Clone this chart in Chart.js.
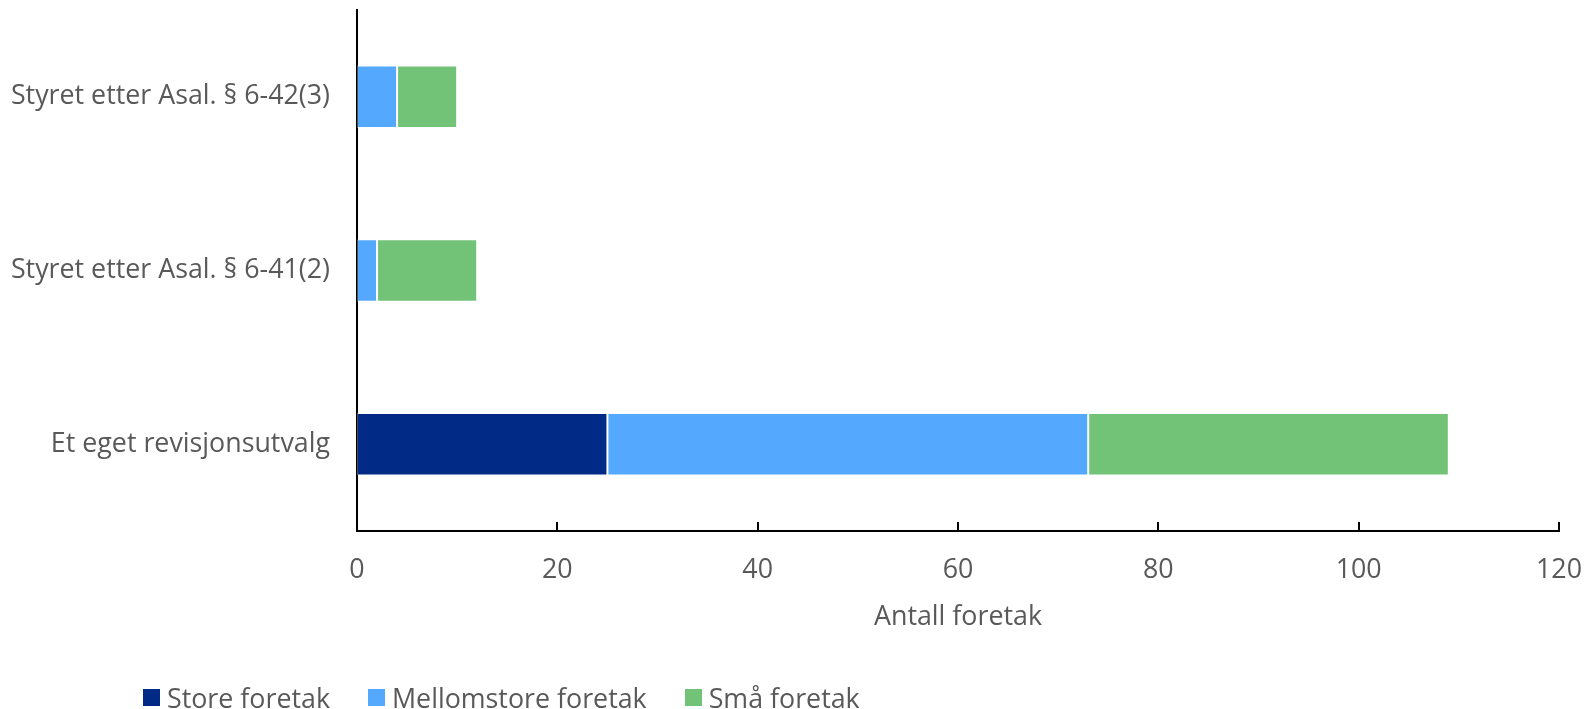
<!DOCTYPE html>
<html>
<head>
<meta charset="utf-8">
<script src="https://cdn.jsdelivr.net/npm/chart.js@4/dist/chart.umd.min.js"></script>
<style>
  html, body { margin: 0; padding: 0; background: #fff; }
  #wrap { position: relative; width: 1587px; height: 709px; }
  #chart { position: absolute; left: 0; top: 0; }
  #legend {
    position: absolute; left: 143px; top: 680px; height: 34px;
    display: flex; align-items: center;
    font-family: "Open Sans", sans-serif; font-size: 26.8px; color: #595959;
    white-space: nowrap;
  }
  .item { display: flex; align-items: center; margin-right: 38px; }
  .box { width: 17px; height: 17px; margin-right: 7px; }
</style>
</head>
<body>
<div id="wrap">
  <canvas id="chart" width="1587" height="709"></canvas>
  <div id="legend"></div>
</div>
<script>
// Categories (top to bottom) and number of companies per size group
const categories = [
  "Styret etter Asal. § 6-42(3)",
  "Styret etter Asal. § 6-41(2)",
  "Et eget revisjonsutvalg"
];
const seriesNames = ["Store foretak", "Mellomstore foretak", "Små foretak"];
const storeForetak = [0, 0, 25];
const mellomstoreForetak = [4, 2, 48];
const smaForetak = [6, 10, 36];
const xTicks = [0, 20, 40, 60, 80, 100, 120];
const colors = ["#002a85", "#54a9ff", "#72c277"];
const axisTitle = "Antall foretak";

const seriesValues = [storeForetak, mellomstoreForetak, smaForetak];
const TEXT = "#595959";
const FONT = "'Open Sans', sans-serif";
const FONT_SIZE = 26.8;

// Small tick marks pointing up from the value axis
const innerTicks = {
  id: "innerTicks",
  afterDraw(chart) {
    const x = chart.scales.x;
    const ctx = chart.ctx;
    ctx.save();
    ctx.strokeStyle = "#000";
    ctx.lineWidth = 2;
    xTicks.forEach(v => {
      const px = Math.round(x.getPixelForValue(v));
      ctx.beginPath();
      ctx.moveTo(px, x.top);
      ctx.lineTo(px, x.top - 9);
      ctx.stroke();
    });
    ctx.restore();
  }
};

// Keep the plot area fixed by dropping the scales' automatic label overhang
function noScalePadding(scale) {
  scale.paddingTop = 0;
  scale.paddingBottom = 0;
  scale.paddingLeft = 0;
  scale.paddingRight = 0;
}

new Chart(document.getElementById("chart"), {
  type: "bar",
  data: {
    labels: categories,
    datasets: seriesNames.map((name, i) => ({
      label: name,
      data: seriesValues[i],
      backgroundColor: colors[i],
      borderColor: "rgba(255,255,255,0.3)",
      borderWidth: 1,
      borderSkipped: false,
      categoryPercentage: 1,
      barPercentage: 0.36
    }))
  },
  options: {
    indexAxis: "y",
    responsive: false,
    animation: false,
    layout: { padding: { top: 10, right: 28, left: 0, bottom: 0 } },
    plugins: {
      legend: { display: false },
      tooltip: { enabled: false }
    },
    scales: {
      x: {
        stacked: true,
        min: 0,
        max: 120,
        afterBuildTicks(scale) { scale.ticks = xTicks.map(v => ({ value: v })); },
        afterFit(scale) { scale.height = 178; noScalePadding(scale); },
        grid: { display: false, drawTicks: false },
        border: { display: true, color: "#000", width: 2 },
        ticks: {
          padding: 23,
          color: TEXT,
          font: { family: FONT, size: FONT_SIZE }
        },
        title: {
          display: true,
          text: axisTitle,
          color: TEXT,
          font: { family: FONT, size: FONT_SIZE },
          padding: { top: 0, bottom: 76 }
        }
      },
      y: {
        stacked: true,
        afterFit(scale) { scale.width = 357; noScalePadding(scale); },
        grid: { display: false, drawTicks: false },
        border: { display: true, color: "#000", width: 2 },
        ticks: {
          padding: 27,
          color: TEXT,
          font: { family: FONT, size: FONT_SIZE }
        }
      }
    }
  },
  plugins: [innerTicks]
});

// Legend row built from the same series names and colours
const legend = document.getElementById("legend");
seriesNames.forEach((name, i) => {
  const item = document.createElement("div");
  item.className = "item";
  const box = document.createElement("span");
  box.className = "box";
  box.style.background = colors[i];
  const txt = document.createElement("span");
  txt.textContent = name;
  item.appendChild(box);
  item.appendChild(txt);
  legend.appendChild(item);
});
</script>
</body>
</html>
